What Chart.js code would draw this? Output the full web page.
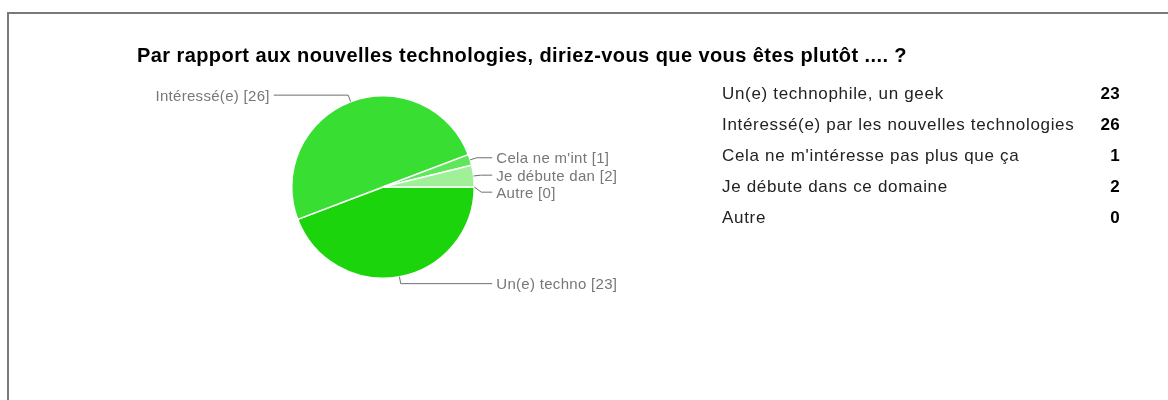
<!DOCTYPE html>
<html>
<head>
<meta charset="utf-8">
<script src="https://cdn.jsdelivr.net/npm/chart.js@4/dist/chart.umd.min.js"></script>
<style>
  html, body { margin: 0; padding: 0; background: #fff; }
  body { width: 1168px; height: 400px; position: relative; overflow: hidden; font-family: "Liberation Sans", Arial, sans-serif; }
  #frame { position: absolute; left: 7px; top: 12px; width: 1170px; height: 400px; border-left: 2px solid #7a7a7a; border-top: 2px solid #7a7a7a; box-sizing: border-box; }
  #title { position: absolute; left: 137px; top: 44px; font-size: 20px; line-height: 22px; letter-spacing: 0.42px; font-weight: bold; color: #000; white-space: nowrap; }
  #legend { position: absolute; left: 722px; top: 84px; width: 398px; font-size: 17px; letter-spacing: 0.68px; color: #222; }
  #legend .row { position: relative; height: 31px; line-height: 20px; white-space: nowrap; }
  #legend .val { position: absolute; right: 0; top: 0; font-weight: bold; color: #000; letter-spacing: 0.3px; }
  #wrap { position: absolute; left: 0; top: 0; width: 1168px; height: 400px; }
</style>
</head>
<body>
<div id="frame"></div>
<div id="wrap"><canvas id="c" width="1168" height="400"></canvas></div>
<div id="title"></div>
<div id="legend"></div>
<script>
const titleText = "Par rapport aux nouvelles technologies, diriez-vous que vous êtes plutôt .... ?";
const categories = ["Un(e) technophile, un geek", "Intéressé(e) par les nouvelles technologies", "Cela ne m'intéresse pas plus que ça", "Je débute dans ce domaine", "Autre"];
const shortLabels = ["Un(e) techno", "Intéressé(e)", "Cela ne m'int", "Je débute dan", "Autre"];
const values = [23, 26, 1, 2, 0];
const colors = ["#1cd40c", "#38de31", "#5fe65a", "#a0f09a", "#c8f7c4"];

document.getElementById('title').textContent = titleText;
const leg = document.getElementById('legend');
categories.forEach((c, i) => {
  const r = document.createElement('div');
  r.className = 'row';
  const l = document.createElement('span'); l.textContent = c;
  const v = document.createElement('span'); v.className = 'val'; v.textContent = values[i];
  r.appendChild(l); r.appendChild(v); leg.appendChild(r);
});

const leaderPlugin = {
  id: 'leaders',
  afterDatasetsDraw(chart) {
    const ctx = chart.ctx;
    const arcs = chart.getDatasetMeta(0).data;
    const items = arcs.map((a, i) => {
      const mid = (a.startAngle + a.endAngle) / 2;
      const r = a.outerRadius;
      const ax = a.x + Math.cos(mid) * r, ay = a.y + Math.sin(mid) * r;
      const ex = a.x + Math.cos(mid) * (r + 7), ey = a.y + Math.sin(mid) * (r + 7);
      const right = Math.cos(mid) >= 0;
      return { i, ax, ay, ex, ey, ly: ey, right, cx: a.x, r };
    });
    const gap = 17;
    [true, false].forEach(side => {
      const list = items.filter(t => t.right === side).sort((p, q) => p.ey - q.ey);
      for (let k = 1; k < list.length; k++) {
        if (list[k].ly < list[k - 1].ly + gap) list[k].ly = list[k - 1].ly + gap;
      }
    });
    ctx.save();
    ctx.strokeStyle = '#6f6f6f';
    ctx.lineWidth = 1;
    ctx.fillStyle = '#777';
    ctx.font = '15px "Liberation Sans", Arial, sans-serif';
    if ('letterSpacing' in ctx) ctx.letterSpacing = '0.3px';
    ctx.textBaseline = 'middle';
    items.forEach(t => {
      const tx = t.right ? t.cx + t.r + 22 : t.cx - t.r - 22;
      const lx = t.right ? tx - 4 : tx + 4;
      ctx.beginPath();
      ctx.moveTo(t.ax, t.ay);
      ctx.lineTo(t.ex, t.ly);
      ctx.lineTo(lx, t.ly);
      ctx.stroke();
      ctx.textAlign = t.right ? 'left' : 'right';
      ctx.fillText(shortLabels[t.i] + ' [' + values[t.i] + ']', tx, t.ly + 1.5);
    });
    ctx.restore();
  }
};

new Chart(document.getElementById('c'), {
  type: 'pie',
  data: {
    labels: categories,
    datasets: [{
      data: values,
      backgroundColor: colors,
      borderColor: '#ffffff',
      borderWidth: 1.5
    }]
  },
  options: {
    responsive: false,
    animation: false,
    rotation: 90,
    layout: { padding: { left: 291, right: 693, top: 95, bottom: 121 } },
    plugins: { legend: { display: false }, tooltip: { enabled: false }, title: { display: false } }
  },
  plugins: [leaderPlugin]
});
</script>
</body>
</html>
